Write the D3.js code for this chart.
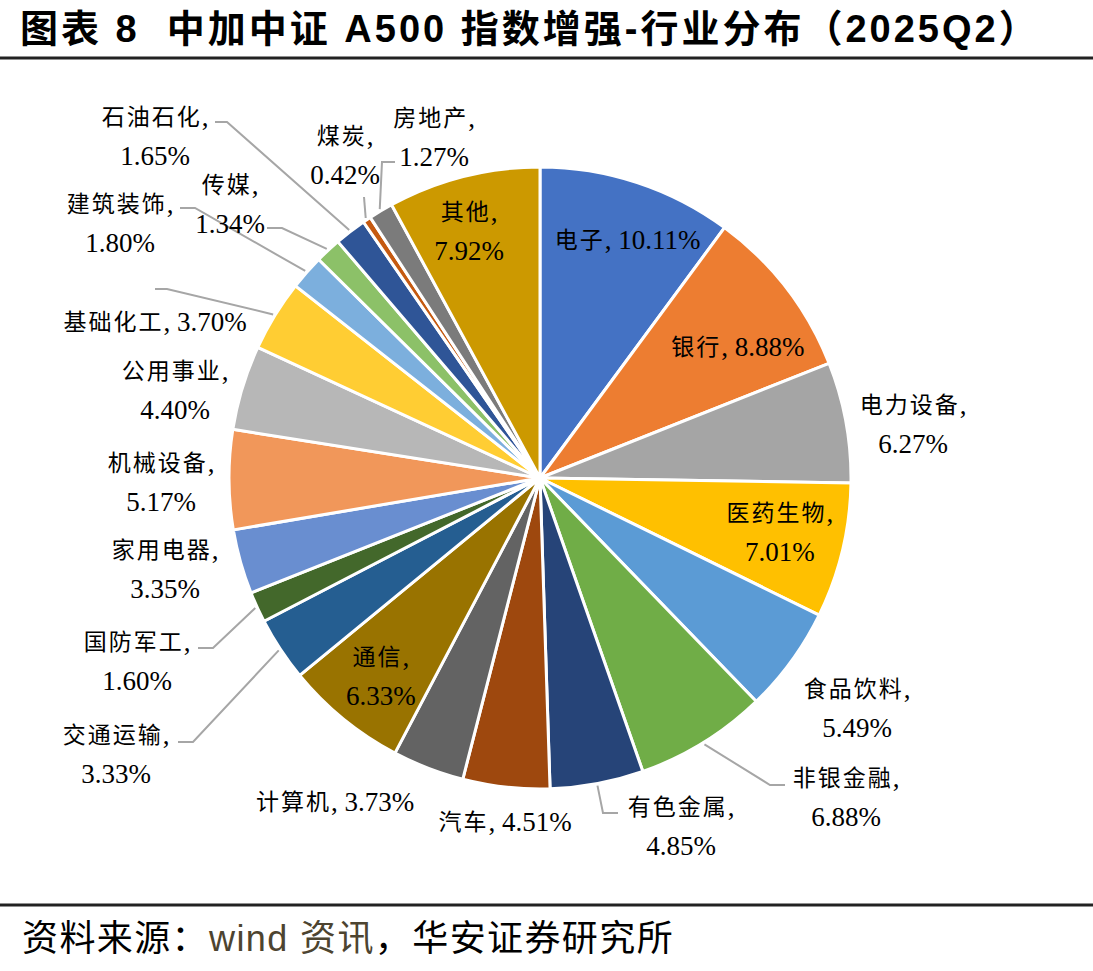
<!DOCTYPE html>
<html>
<head>
<meta charset="utf-8">
<script src="https://cdn.jsdelivr.net/npm/d3@7"></script>
<style>
  body { margin: 0; background: #fff; }
  svg { display: block; }
</style>
</head>
<body>
<div id="chart"></div>
<script>
// DATA
const industries = ["电子", "银行", "电力设备", "医药生物", "食品饮料", "非银金融", "有色金属", "汽车",
    "计算机", "通信", "交通运输", "国防军工", "家用电器", "机械设备", "公用事业", "基础化工",
    "建筑装饰", "传媒", "石油石化", "煤炭", "房地产", "其他"];
const weights = [10.11, 8.88, 6.27, 7.01, 5.49, 6.88, 4.85, 4.51,
    3.73, 6.33, 3.33, 1.60, 3.35, 5.17, 4.40, 3.70,
    1.80, 1.34, 1.65, 0.42, 1.27, 7.92];
const sliceColors = ["#4472C4", "#ED7D31", "#A5A5A5", "#FFC000", "#5B9BD5", "#70AD47", "#264478", "#9E480E",
    "#636363", "#997300", "#255E91", "#43682B", "#698ED0", "#F1975A", "#B7B7B7", "#FFCD33",
    "#7CAFDD", "#8CC168", "#2F5597", "#C55A11", "#7B7B7B", "#CC9900"];

// CHART VARIABLES
const width = 1093;
const height = 971;
const cx = 540;
const cy = 478;
const radius = 311;

// labels drawn inside the slices (nudged from the centroid)
const insideLabels = {
    "电子": {oneLine: true, nx: 8, ny: 4},
    "银行": {oneLine: true, nx: -4, ny: 25},
    "医药生物": {oneLine: false, nx: -8, ny: -5},
    "通信": {oneLine: false, nx: 2, ny: 1},
    "其他": {oneLine: false, nx: -8, ny: 1}
};

// labels outside, offsets from pie centre; lead = elbow points of leader line
const outsideLabels = {
    "电力设备": {dx: 373, dy: -54},
    "食品饮料": {dx: 317, dy: 230},
    "非银金融": {dx: 306, dy: 319, lead: [[230, 307], [245, 307]]},
    "有色金属": {dx: 141, dy: 348, lead: [[63, 335], [78, 335]]},
    "汽车": {dx: -35, dy: 344, oneLine: true},
    "计算机": {dx: -205, dy: 324, oneLine: true},
    "交通运输": {dx: -424, dy: 276, lead: [[-347, 264], [-362, 264]]},
    "国防军工": {dx: -403, dy: 183, lead: [[-327, 170], [-342, 170]]},
    "家用电器": {dx: -375, dy: 91},
    "机械设备": {dx: -379, dy: 4},
    "公用事业": {dx: -365, dy: -88},
    "基础化工": {dx: -385, dy: -156, oneLine: true, lead: [[-373, -189], [-385, -189]]},
    "建筑装饰": {dx: -420, dy: -255, lead: [[-345, -270], [-360, -270]]},
    "传媒": {dx: -310, dy: -274, lead: [[-258, -250], [-273, -250]]},
    "石油石化": {dx: -385, dy: -342, lead: [[-313, -356], [-325, -356]]},
    "煤炭": {dx: -195, dy: -323, lead: [[-176, -281]]},
    "房地产": {dx: -106, dy: -341, lead: [[-158, -316], [-145, -316]]}
};

const lineGap = 39;
const labelFont = "'Liberation Serif', 'Noto Sans CJK SC', serif";
const sansFont = "'Liberation Sans', 'Noto Sans CJK SC', sans-serif";

const svg = d3.select("#chart")
    .append("svg")
        .attr("width", width)
        .attr("height", height);

// title
svg.append("text")
    .attr("x", 20)
    .attr("y", 42)
    .attr("font-family", sansFont)
    .attr("font-weight", "bold")
    .attr("font-size", 38)
    .attr("letter-spacing", 3)
    .attr("xml:space", "preserve")
    .attr("fill", "#000")
    .text("图表 8  中加中证 A500 指数增强-行业分布（2025Q2）");

svg.append("line")
    .attr("x1", 0).attr("x2", width)
    .attr("y1", 58).attr("y2", 58)
    .attr("stroke", "#222").attr("stroke-width", 3);

svg.append("line")
    .attr("x1", 0).attr("x2", width)
    .attr("y1", 905).attr("y2", 905)
    .attr("stroke", "#222").attr("stroke-width", 3);

// source
const source = svg.append("text")
    .attr("x", 22)
    .attr("y", 951)
    .attr("font-family", sansFont)
    .attr("font-size", 36)
    .attr("letter-spacing", 1.4)
    .attr("fill", "#000");
source.append("tspan").text("资料来源：");
source.append("tspan").attr("fill", "#4d4430").text("wind 资讯");
source.append("tspan").text("，华安证券研究所");

// pie
const data = industries.map((name, i) => ({name: name, value: weights[i], color: sliceColors[i]}));

const pie = d3.pie()
    .sort(null)
    .value(d => d.value);

const arcs = pie(data);

const arc = d3.arc()
    .innerRadius(0)
    .outerRadius(radius);

const labelArc = d3.arc()
    .innerRadius(radius * 0.82)
    .outerRadius(radius * 0.82);

const edgeArc = d3.arc()
    .innerRadius(radius + 2)
    .outerRadius(radius + 2);

const g = svg.append("g")
    .attr("transform", `translate(${cx}, ${cy})`);

g.append("g")
    .selectAll("path")
    .data(arcs)
    .join("path")
        .attr("d", arc)
        .attr("fill", d => d.data.color)
        .attr("stroke", "#fff")
        .attr("stroke-width", 3)
        .attr("stroke-linejoin", "round");

// leader lines
const leaders = arcs.filter(d => outsideLabels[d.data.name] && outsideLabels[d.data.name].lead);
g.append("g")
    .selectAll("polyline")
    .data(leaders)
    .join("polyline")
        .attr("points", d => {
            const start = edgeArc.centroid(d);
            return [start].concat(outsideLabels[d.data.name].lead).map(p => p.join(",")).join(" ");
        })
        .attr("fill", "none")
        .attr("stroke", "#A6A6A6")
        .attr("stroke-width", 2);

// data labels: name in CJK, percentage a little larger like the serif digits of the original
function addName(sel, name) {
    sel.append("tspan").attr("font-size", 23).attr("letter-spacing", 2).text(name);
}
function addPct(sel, pct) {
    sel.append("tspan").attr("font-size", 27).text(pct);
}

function drawLabel(x, y, name, value, oneLine) {
    const pct = value.toFixed(2) + "%";
    const t = g.append("text")
        .attr("font-family", labelFont)
        .attr("fill", "#000")
        .attr("text-anchor", "middle")
        .attr("dominant-baseline", "central");
    if (oneLine) {
        const line = t.append("tspan").attr("x", x).attr("y", y);
        addName(line, name);
        line.append("tspan").attr("font-size", 27).text(", " + pct);
    } else {
        const l1 = t.append("tspan").attr("x", x).attr("y", y - lineGap / 2);
        addName(l1, name);
        l1.append("tspan").attr("font-size", 27).text(",");
        const l2 = t.append("tspan").attr("x", x).attr("y", y + lineGap / 2);
        addPct(l2, pct);
    }
}

arcs.forEach(d => {
    const name = d.data.name;
    if (insideLabels[name]) {
        const c = labelArc.centroid(d);
        const o = insideLabels[name];
        drawLabel(c[0] + o.nx, c[1] + o.ny, name, d.data.value, o.oneLine);
    } else if (outsideLabels[name]) {
        const o = outsideLabels[name];
        drawLabel(o.dx, o.dy, name, d.data.value, o.oneLine);
    }
});
</script>
</body>
</html>
